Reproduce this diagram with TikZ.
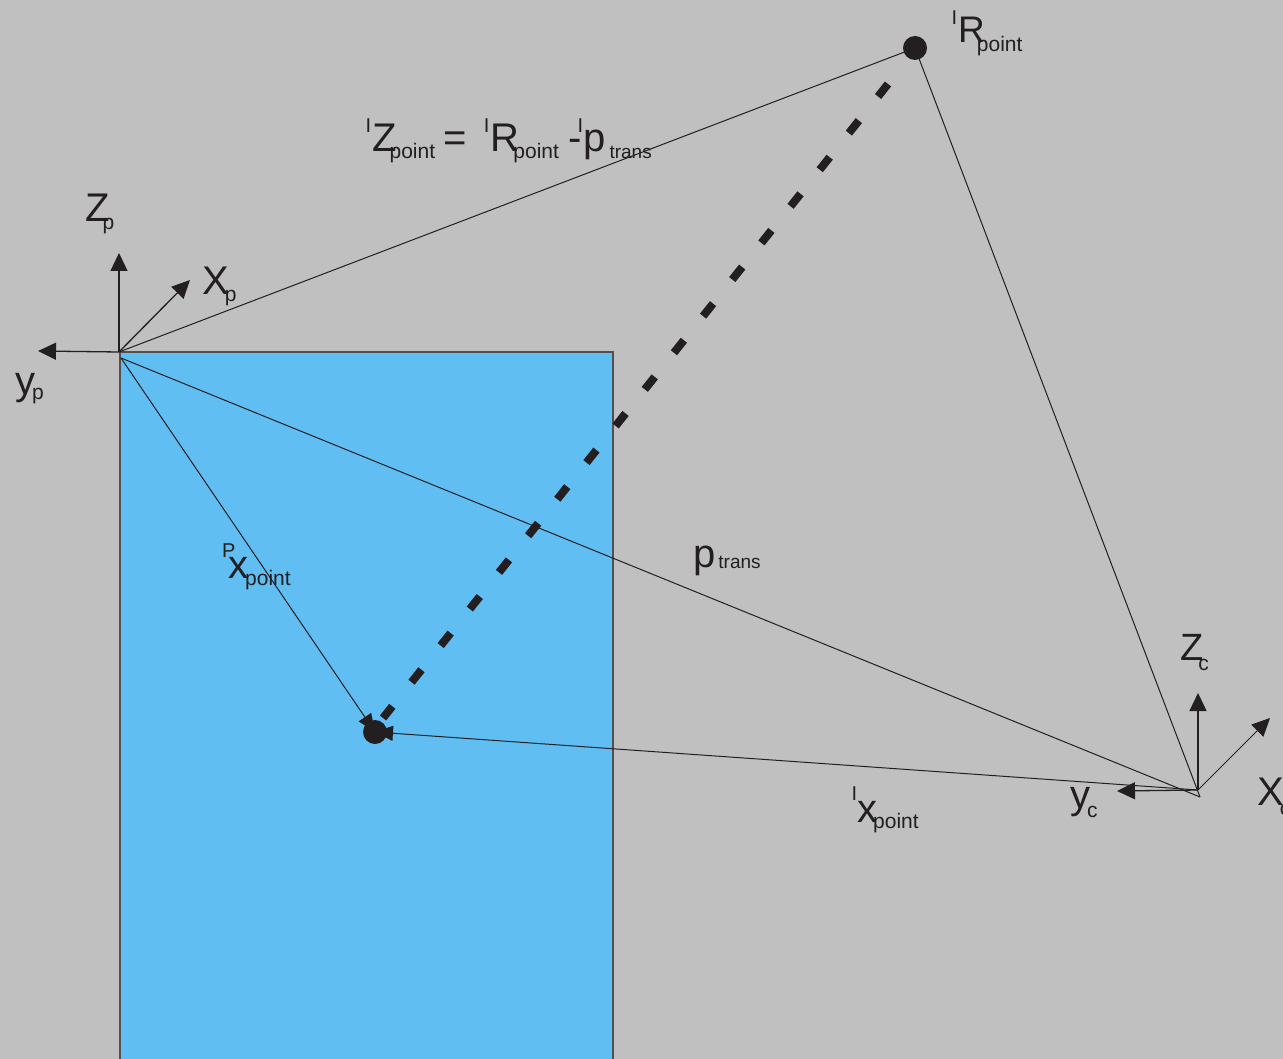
\documentclass[tikz,border=0pt]{standalone}
\usepackage{fontspec}
\setmainfont{Liberation Sans}
\usetikzlibrary{arrows.meta}
\definecolor{bg}{HTML}{C0C0C0}
\definecolor{blu}{HTML}{60BEF3}
\definecolor{ink}{HTML}{231F20}
\definecolor{edgec}{HTML}{505050}
\newcommand\fsz[1]{\fontsize{#1}{#1}\selectfont}
\newcommand\subx[3]{\kern#1\raisebox{-#2}{\fsz{21}#3}}
\newcommand\supx[3]{\makebox[0pt][r]{\raisebox{#2}{\fsz{20}#3}\kern#1}}
\begin{document}
\begin{tikzpicture}[x=1pt,y=-1pt,
  lab/.style={inner sep=0pt,anchor=base west,text=ink,font=\fsz{40}},
  thinln/.style={draw=ink,line width=1pt},
  ar/.style={draw=ink,line width=1.3pt,-{Triangle[length=18pt,width=17pt]}},
  dot/.style={circle,fill=ink,minimum size=24pt,inner sep=0pt},
  dashln/.style={draw=ink,line width=8pt,dash pattern=on 16pt off 30.8pt}]
\useasboundingbox (0,0) rectangle (1283,1059);
\fill[bg] (0,0) rectangle (1283,1059);
\draw[fill=blu,draw=edgec,line width=1.5pt] (120,352) rectangle (613,1065);
% coordinates
\coordinate (op) at (119,352);
\coordinate (op2) at (121,358);
\coordinate (oc) at (1198,790);
\coordinate (oc2) at (1200,797);
\coordinate (rc) at (915,48);
\coordinate (xc) at (375,732);
\coordinate (dA) at (888,84);
\coordinate (dB) at (383,718);
\coordinate (zpT) at (119,253);
\coordinate (xpT) at (190,280);
\coordinate (ypT) at (38,351);
\coordinate (zcT) at (1198,693);
\coordinate (xcT) at (1270,718);
\coordinate (ycT) at (1117,791);
% connectors
\draw[thinln] (op) -- (rc);
\draw[thinln] (rc) -- (oc2);
\draw[thinln] (op2) -- (oc2);
\draw[thinln,-{Triangle[length=18pt,width=15pt]}] (op2) -- (xc);
\draw[thinln,-{Triangle[length=18pt,width=15pt]}] (oc) -- (xc);
\draw[dashln] (dA) -- (dB);
% axes
\draw[ar] (op) -- (zpT);
\draw[ar] (op) -- (xpT);
\draw[ar] (op) -- (ypT);
\draw[ar] (oc) -- (zcT);
\draw[ar,line width=1pt] (oc) -- (xcT);
\draw[ar] (oc) -- (ycT);
% dots
\node[dot] (rpt) at (rc) {};
\node[dot] (xpt) at (xc) {};
% labels
\node[lab] (eq) at (372,152) {\supx{1pt}{19pt}{I}Z\subx{-7pt}{7pt}{point}\hspace{8pt}=\hspace{24pt}\supx{1pt}{19pt}{I}R\subx{-6pt}{7pt}{point}\hspace{10pt}-\hspace{1pt}\supx{0pt}{19pt}{I}p\subx{4pt}{7pt}{\fsz{19}trans}};
\node[lab,font=\fsz{37}] (rl) at (958,43) {\supx{1pt}{18pt}{I}R\subx{-8pt}{9pt}{point}};
\node[lab] (zp) at (85,222) {Z\subx{-7pt}{8pt}{p}};
\node[lab] (xpl) at (202,295) {X\subx{-4pt}{7pt}{p}};
\node[lab] (ypl) at (15,395) {y\subx{-3pt}{5pt}{p}};
\node[lab] (pxp) at (228,578) {\makebox[0pt][l]{\kern-6pt\raisebox{21pt}{\fsz{20}P}}x\subx{-3pt}{7pt}{point}};
\node[lab] (ptr) at (693,567) {p\subx{3pt}{1pt}{\fsz{19}trans}};
\node[lab] (ixp) at (857,822) {\supx{0pt}{22pt}{I}x\subx{-4pt}{6pt}{point}};
\node[lab,font=\fsz{38}] (zcl) at (1180,660) {Z\subx{-5pt}{10pt}{c}};
\node[lab] (ycl) at (1070,808) {y\subx{-3pt}{9pt}{c}};
\node[lab] (xcl) at (1257,805) {X\subx{-4pt}{10pt}{c}};
\end{tikzpicture}
\end{document}
